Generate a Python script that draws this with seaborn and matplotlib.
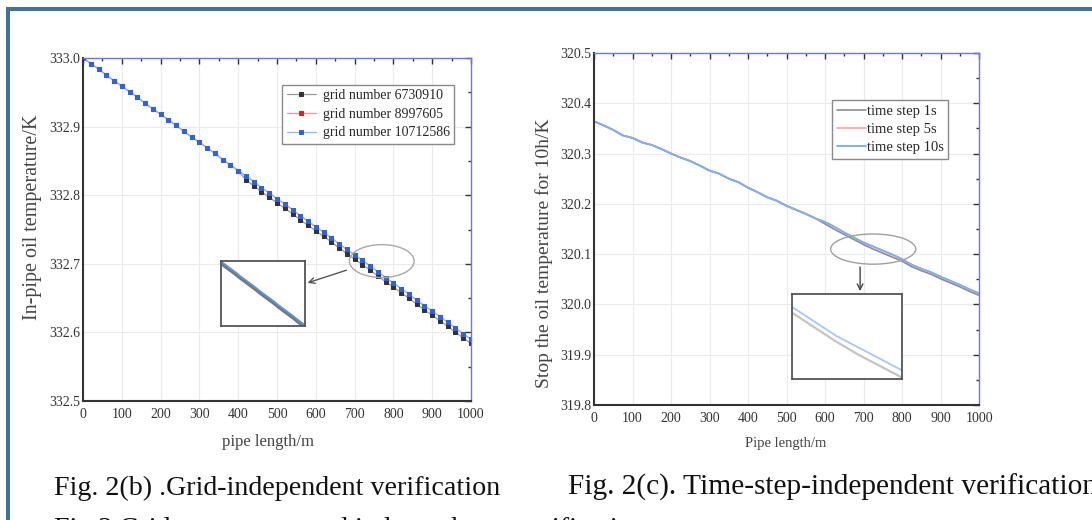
import matplotlib
matplotlib.use("Agg")
import matplotlib.pyplot as plt
import seaborn as sns
from matplotlib.patches import Ellipse, Rectangle

sns.set_style("white")
plt.rcParams['font.family'] = ['Liberation Serif', 'DejaVu Serif']

# ---- data: Fig. 2(b) grid independence ----
grid_x = [0, 20, 40, 60, 80, 100, 120, 140, 160, 180, 200, 220, 240, 260, 280, 300,
          320, 340, 360, 380, 400, 420, 440, 460, 480, 500, 520, 540, 560, 580, 600,
          620, 640, 660, 680, 700, 720, 740, 760, 780, 800, 820, 840, 860, 880, 900,
          920, 940, 960, 980, 1000]
temp_10712586 = [333.000, 332.992, 332.984, 332.975, 332.967, 332.959, 332.951, 332.943,
                 332.934, 332.926, 332.918, 332.910, 332.902, 332.893, 332.885, 332.877,
                 332.869, 332.861, 332.852, 332.844, 332.836, 332.828, 332.820, 332.811,
                 332.803, 332.795, 332.787, 332.779, 332.770, 332.762, 332.754, 332.746,
                 332.738, 332.729, 332.721, 332.713, 332.705, 332.697, 332.688, 332.680,
                 332.672, 332.664, 332.656, 332.647, 332.639, 332.631, 332.623, 332.615,
                 332.606, 332.598, 332.590]
temp_8997605 = list(temp_10712586)  # hidden under the blue curve
temp_6730910 = [333.000, 332.992, 332.984, 332.975, 332.967, 332.959, 332.951, 332.943,
                332.934, 332.926, 332.918, 332.910, 332.902, 332.893, 332.885, 332.877,
                332.869, 332.861, 332.852, 332.844, 332.836, 332.822, 332.814, 332.805,
                332.797, 332.789, 332.781, 332.773, 332.764, 332.756, 332.748, 332.740,
                332.732, 332.723, 332.715, 332.707, 332.699, 332.691, 332.682, 332.674,
                332.666, 332.658, 332.650, 332.641, 332.633, 332.625, 332.617, 332.609,
                332.600, 332.592, 332.584]

# ---- data: Fig. 2(c) time-step independence ----
step_x = [0, 25, 50, 75, 100, 125, 150, 175, 200, 225, 250, 275, 300, 325, 350, 375,
          400, 425, 450, 475, 500, 525, 550, 575, 600, 625, 650, 675, 700, 725, 750,
          775, 800, 825, 850, 875, 900, 925, 950, 975, 1000]
temp_10s = [320.364, 320.356, 320.347, 320.336, 320.331, 320.322, 320.317, 320.309,
            320.300, 320.292, 320.285, 320.276, 320.266, 320.260, 320.250, 320.243,
            320.232, 320.223, 320.213, 320.206, 320.196, 320.188, 320.180, 320.171,
            320.164, 320.154, 320.143, 320.133, 320.123, 320.115, 320.107, 320.099,
            320.090, 320.079, 320.071, 320.064, 320.055, 320.047, 320.039, 320.030,
            320.022]
temp_5s = list(temp_10s)
temp_1s = [320.364, 320.356, 320.347, 320.336, 320.331, 320.322, 320.317, 320.309,
           320.300, 320.292, 320.285, 320.276, 320.266, 320.260, 320.250, 320.243,
           320.232, 320.223, 320.213, 320.206, 320.196, 320.188, 320.180, 320.171,
           320.160, 320.149, 320.139, 320.129, 320.119, 320.110, 320.102, 320.094,
           320.086, 320.075, 320.067, 320.060, 320.051, 320.043, 320.035, 320.026,
           320.018]

grid_labels = ['grid number 6730910', 'grid number 8997605', 'grid number 10712586']
step_labels = ['time step 1s', 'time step 5s', 'time step 10s']

fig = plt.figure(figsize=(10.92, 5.2), dpi=100)


def style_axes(ax, ylim, yticks):
    ax.set_xlim(0, 1000)
    ax.set_ylim(*ylim)
    ax.set_xticks(range(0, 1001, 100))
    ax.set_xticks(range(50, 1000, 100), minor=True)
    ax.set_yticks(yticks)
    ax.set_yticks([y + 0.05 for y in yticks[:-1]], minor=True)
    ax.grid(True, which='major', color='#ebebeb', lw=0.8)
    for s in ['left', 'bottom']:
        ax.spines[s].set_color('#333333')
        ax.spines[s].set_linewidth(1.5)
    for s in ['top', 'right']:
        ax.spines[s].set_color('#7070ff')
        ax.spines[s].set_linewidth(1.0)
    ax.tick_params(which='both', direction='in', top=True, right=True,
                   labelsize=10, labelcolor='#333333', color='#333333')
    ax.tick_params(which='major', length=4, width=1)
    ax.tick_params(which='minor', length=2.5, width=1)
    ax.tick_params(axis='x', pad=5)
    ax.tick_params(axis='y', pad=2)
    for t in ax.xaxis.get_ticklines(minor=False)[1::2] + ax.yaxis.get_ticklines(minor=False)[1::2]:
        t.set_color('#5050ff')
    for t in ax.xaxis.get_ticklines(minor=True)[1::2] + ax.yaxis.get_ticklines(minor=True)[1::2]:
        t.set_color('#5050ff')


# ---------------- left panel ----------------
ax1 = fig.add_axes([0.0760, 0.2288, 0.3553, 0.6596])
sns.lineplot(x=grid_x, y=temp_6730910, ax=ax1, color='#9a9a9a', lw=0.9, marker='s',
             markersize=2.2, mfc='#333333', mec='#333333', label=grid_labels[0])
sns.lineplot(x=grid_x, y=temp_8997605, ax=ax1, color='#ff9090', lw=0.9, marker='s',
             markersize=2.2, mfc='#e02020', mec='#e02020', label=grid_labels[1])
sns.lineplot(x=grid_x, y=temp_10712586, ax=ax1, color='#8fb8f2', lw=0.9, marker='s',
             markersize=2.2, mfc='#2f63d8', mec='#2f63d8', label=grid_labels[2])
style_axes(ax1, (332.5, 333.0), [332.5, 332.6, 332.7, 332.8, 332.9, 333.0])
ax1.set_xlabel('pipe length/m', fontsize=12, color='#444444')
ax1.set_ylabel('In-pipe oil temperature/K', fontsize=14.5, color='#444444')
ax1.xaxis.set_label_coords(0.477, -0.095)
ax1.yaxis.set_label_coords(-0.105, 0.535)
leg1 = ax1.legend(loc='upper right', bbox_to_anchor=(0.956, 0.921), borderaxespad=0,
                  fontsize=10, handlelength=2.1, handletextpad=0.5, labelspacing=0.4,
                  borderpad=0.3, fancybox=False, framealpha=1, edgecolor='#8a8a8a')
leg1.get_frame().set_linewidth(1.0)
ax1.add_patch(Ellipse((770, 332.704), 167, 0.048, fill=False, ec='#a8a8a8', lw=1, zorder=5))
ax1.annotate('', xy=(572, 332.671), xytext=(686, 332.692),
             arrowprops=dict(arrowstyle='->', color='#555555', lw=1))

ins1 = fig.add_axes([0.2024, 0.3731, 0.0769, 0.125])
sns.lineplot(x=grid_x, y=temp_6730910, ax=ins1, color='#777777', lw=2)
sns.lineplot(x=grid_x, y=temp_10712586, ax=ins1, color='#5b8ee6', lw=1.4)
ins1.set_xlim(560, 1000)
ins1.set_ylim(332.588, 332.772)
ins1.set_xticks([])
ins1.set_yticks([])
ins1.set_xlabel('')
ins1.set_ylabel('')
for s in ins1.spines.values():
    s.set_color('#555555')
    s.set_linewidth(1.3)

# ---------------- right panel ----------------
ax2 = fig.add_axes([0.5440, 0.2212, 0.3526, 0.6769])
sns.lineplot(x=step_x, y=temp_1s, ax=ax2, color='#8c8c8c', lw=1.2, label=step_labels[0])
sns.lineplot(x=step_x, y=temp_5s, ax=ax2, color='#ffa0a0', lw=1.2, label=step_labels[1])
sns.lineplot(x=step_x, y=temp_10s, ax=ax2, color='#80aef0', lw=1.4, label=step_labels[2])
style_axes(ax2, (319.8, 320.5), [319.8, 319.9, 320.0, 320.1, 320.2, 320.3, 320.4, 320.5])
ax2.set_xlabel('Pipe length/m', fontsize=10.5, color='#444444')
ax2.set_ylabel('Stop the oil temperature for 10h/K', fontsize=14, color='#444444')
ax2.xaxis.set_label_coords(0.499, -0.09)
ax2.yaxis.set_label_coords(-0.106, 0.43)
leg2 = ax2.legend(loc='upper right', bbox_to_anchor=(0.919, 0.866), borderaxespad=0,
                  fontsize=10.5, handlelength=2.0, handletextpad=0.05, labelspacing=0.35,
                  borderpad=0.3, fancybox=False, framealpha=1, edgecolor='#8a8a8a')
leg2.get_frame().set_linewidth(1.0)
ax2.add_patch(Ellipse((725, 320.11), 221, 0.06, fill=False, ec='#a0a0a0', lw=1, zorder=5))
ax2.annotate('', xy=(691, 320.021), xytext=(691, 320.080),
             arrowprops=dict(arrowstyle='->', color='#444444', lw=1))

ins2 = fig.add_axes([0.7253, 0.2712, 0.1007, 0.1635])
sns.lineplot(x=step_x, y=temp_1s, ax=ins2, color='#c4c4c4', lw=1.6)
sns.lineplot(x=step_x, y=temp_10s, ax=ins2, color='#aac6f2', lw=1.3)
ins2.set_xlim(650, 775)
ins2.set_ylim(320.093, 320.152)
ins2.set_xticks([])
ins2.set_yticks([])
ins2.set_xlabel('')
ins2.set_ylabel('')
for s in ins2.spines.values():
    s.set_color('#555555')
    s.set_linewidth(1.3)

# ---------------- captions and page frame ----------------
fig.text(0.0495, 0.048, 'Fig. 2(b) .Grid-independent verification', fontsize=20.2,
         va='baseline', color='#111111')
fig.text(0.52, 0.048, 'Fig. 2(c). Time-step-independent verification', fontsize=21.2,
         va='baseline', color='#111111')
fig.text(0.0495, -0.03, 'Fig.2 Grid parameters and independence verification', fontsize=20.2,
         va='baseline', color='#111111')

fig.add_artist(Rectangle((6 / 1092, 0), 4 / 1092, 1 - 7 / 520, transform=fig.transFigure,
                         color='#41719c', lw=0))
fig.add_artist(Rectangle((6 / 1092, 1 - 11 / 520), 1 - 6 / 1092, 4 / 520,
                         transform=fig.transFigure, color='#41719c', lw=0))

fig.savefig('out.png', dpi=100)
